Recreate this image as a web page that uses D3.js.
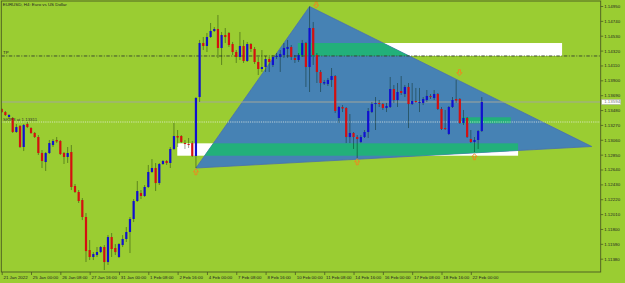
<!DOCTYPE html>
<html><head><meta charset="utf-8">
<script src="https://cdn.jsdelivr.net/npm/d3@7"></script>
<style>html,body{margin:0;padding:0;background:#9ACD32;overflow:hidden}svg{display:block}</style>
</head><body>
<svg id="c" width="625" height="283"></svg>
<script>
// ---- data (EURUSD H4, bar index 0 = 21 Jan 2022 16:00) ----
const opens = [
1.13495,1.13452,1.13382,1.13368,1.13170,1.13255,1.12958,1.13283,1.13226,1.13156,
1.13099,1.12873,1.12746,1.12873,1.12986,1.13057,1.13043,1.12873,1.12817,1.12887,
1.12407,1.12322,1.12209,1.11969,1.11502,1.11404,1.11432,1.11474,1.11545,1.11333,
1.11686,1.11531,1.11404,1.11573,1.11658,1.11757,1.11941,1.12195,1.12308,1.12266,
1.12393,1.12605,1.12661,1.12449,1.12718,1.12760,1.12732,1.12930,1.13113,1.13113,
1.13014,1.13000,1.13014,1.12831,1.13664,1.14427,1.14385,1.14512,1.14597,1.14625,
1.14357,1.14540,1.14569,1.14413,1.14300,1.14230,1.14385,1.14173,1.14413,1.14343,
1.14159,1.14060,1.14088,1.14201,1.14117,1.14230,1.14230,1.14258,1.14343,1.14371,
1.14215,1.14187,1.14258,1.14427,1.14088,1.14639,1.14258,1.14018,1.13855,1.13848,
1.13905,1.13961,1.13368,1.13523,1.13509,1.13099,1.13156,1.13099,1.13029,1.13099,
1.13170,1.13452,1.13565,1.13580,1.13565,1.13509,1.13523,1.13777,1.13622,1.13749,
1.13707,1.13806,1.13565,1.13608,1.13580,1.13580,1.13622,1.13679,1.13650,1.13707,
1.13495,1.13226,1.13142,1.13523,1.13636,1.13636,1.13297,1.13368,1.13071,1.13029,
1.13057,1.13184];
const highs = [
1.13509,1.13467,1.13424,1.13382,1.13283,1.13269,1.13283,1.13311,1.13240,1.13170,
1.13127,1.12915,1.12887,1.13057,1.13071,1.13099,1.13057,1.12887,1.12958,1.12986,
1.12435,1.12350,1.12237,1.12025,1.11644,1.11474,1.11545,1.11559,1.11573,1.11714,
1.11743,1.11587,1.11601,1.11714,1.11827,1.11969,1.12223,1.12477,1.12350,1.12421,
1.12704,1.12788,1.12732,1.12732,1.12774,1.12774,1.12958,1.13297,1.13198,1.13127,
1.13057,1.13085,1.13043,1.13664,1.14470,1.14512,1.14569,1.14710,1.14653,1.14823,
1.14583,1.14639,1.14583,1.14442,1.14328,1.14583,1.14470,1.14442,1.14427,1.14371,
1.14230,1.14328,1.14244,1.14230,1.14258,1.14286,1.14328,1.14427,1.14470,1.14399,
1.14258,1.14286,1.14470,1.14442,1.14943,1.14724,1.14286,1.14046,1.13905,1.13933,
1.14074,1.13975,1.13537,1.13551,1.13523,1.13424,1.13170,1.13127,1.13127,1.13198,
1.13509,1.13594,1.13664,1.13622,1.13580,1.13580,1.13947,1.13834,1.13862,1.13961,
1.13834,1.13862,1.13862,1.13792,1.13792,1.13664,1.13763,1.13707,1.13763,1.13721,
1.13523,1.13481,1.13537,1.13664,1.13905,1.13650,1.13481,1.13382,1.13198,1.13099,
1.13198,1.13664];
const lows = [
1.13438,1.13396,1.13354,1.13156,1.13156,1.12944,1.12901,1.13226,1.13142,1.13085,
1.12845,1.12661,1.12619,1.12859,1.12958,1.13014,1.12845,1.12718,1.12732,1.12350,
1.12308,1.12167,1.11926,1.11333,1.11361,1.11361,1.11404,1.11460,1.11220,1.11291,
1.11404,1.11432,1.11389,1.11545,1.11616,1.11460,1.11898,1.12181,1.12223,1.12251,
1.12379,1.12591,1.12336,1.12421,1.12704,1.12704,1.12661,1.12915,1.12958,1.13014,
1.12930,1.12944,1.12817,1.12661,1.13594,1.14328,1.14300,1.14498,1.14583,1.14215,
1.14117,1.14427,1.14371,1.14258,1.14145,1.14187,1.14145,1.14159,1.14300,1.14131,
1.13975,1.14018,1.14018,1.14018,1.14088,1.14201,1.14018,1.14215,1.14215,1.14187,
1.14145,1.14159,1.14230,1.13806,1.13735,1.14117,1.13862,1.13735,1.13834,1.13820,
1.13806,1.13438,1.13297,1.13452,1.13014,1.13014,1.12930,1.12802,1.13014,1.13085,
1.13085,1.13438,1.13198,1.13523,1.13481,1.13452,1.13509,1.13580,1.13523,1.13693,
1.13664,1.13226,1.13551,1.13580,1.13452,1.13551,1.13594,1.13636,1.13622,1.13481,
1.13198,1.13198,1.13127,1.13509,1.13580,1.13283,1.13269,1.13085,1.13014,1.12887,
1.12930,1.13170];
const closes = [
1.13452,1.13410,1.13410,1.13170,1.13240,1.12958,1.13269,1.13240,1.13156,1.13099,
1.12873,1.12760,1.12873,1.13014,1.13043,1.13036,1.12859,1.12817,1.12873,1.12393,
1.12322,1.12195,1.11969,1.11488,1.11404,1.11446,1.11474,1.11545,1.11333,1.11686,
1.11517,1.11474,1.11587,1.11658,1.11757,1.11941,1.12195,1.12336,1.12266,1.12393,
1.12605,1.12661,1.12449,1.12718,1.12760,1.12732,1.12930,1.13113,1.13092,1.13029,
1.13000,1.12986,1.12831,1.13650,1.14427,1.14385,1.14512,1.14597,1.14625,1.14357,
1.14540,1.14512,1.14399,1.14300,1.14230,1.14385,1.14173,1.14413,1.14343,1.14159,
1.14060,1.14088,1.14201,1.14159,1.14230,1.14244,1.14272,1.14357,1.14371,1.14230,
1.14187,1.14258,1.14427,1.14088,1.14639,1.14258,1.14018,1.13862,1.13876,1.13905,
1.13961,1.13467,1.13523,1.13502,1.13099,1.13156,1.13099,1.13071,1.13099,1.13170,
1.13467,1.13565,1.13580,1.13565,1.13509,1.13537,1.13777,1.13622,1.13735,1.13721,
1.13806,1.13565,1.13608,1.13594,1.13594,1.13636,1.13679,1.13664,1.13707,1.13495,
1.13212,1.13212,1.13523,1.13622,1.13615,1.13297,1.13368,1.13099,1.13029,1.13057,
1.13184,1.13594];

const priceTicks = [1.14950,1.14740,1.14530,1.14320,1.14110,1.13900,1.13690,1.13480,1.13270,
  1.13060,1.12850,1.12640,1.12430,1.12220,1.12010,1.11800,1.11590,1.11380];
const timeTickIdx = [0,8,16,24,32,40,48,56,64,72,80,88,96,104,112,120,128];
const timeTickLabels = ["21 Jan 2022","25 Jan 00:00","26 Jan 08:00","27 Jan 16:00","31 Jan 00:00",
  "1 Feb 08:00","2 Feb 16:00","4 Feb 00:00","7 Feb 08:00","8 Feb 16:00","10 Feb 00:00",
  "11 Feb 08:00","14 Feb 16:00","16 Feb 00:00","17 Feb 08:00","18 Feb 16:00","22 Feb 00:00"];

const title = "EURUSD, H4: Euro vs US Dollar";
const bidPrice = 1.13594;
const tpPrice = 1.14244;
const tpLabel = "TP";
const levelPrice = 1.13311;
const levelLabel = "SKIP3 at 1.13311";
const triIdx = [53, 84, 161];
const triPrice = [1.12661, 1.14943, 1.12965];
const rectIdx0 = [80.8, 47.9, 125.5];
const rectIdx1 = [152.9, 140.9, 138.9];
const rectTop = [1.14427, 1.13010, 1.13378];
const rectBot = [1.14244, 1.12835, 1.13293];
const upArrowIdx = [53, 97, 129];
const upArrowPrice = [1.12609, 1.12750, 1.12821];
const downArrowIdx = [85.8, 124.9];
const downArrowPrice = [1.14964, 1.14008];

// ---- layout ----
const W = 625, H = 283;
const plotL = 1.3, plotR = 600.7, plotT = 1, plotB = 272;
const svg = d3.select("#c");
const x = d3.scaleLinear().domain([0, 163]).range([1.7, 1.7 + 163 * 3.665]);
const y = d3.scaleLinear().domain([1.14950, 1.11380]).range([6, 258.7]);
const FONT = "'Liberation Sans', Arial, sans-serif";

svg.append("rect").attr("width", W).attr("height", H).attr("fill", "#9ACD32");

const defs = svg.append("defs");
defs.append("clipPath").attr("id", "plot").append("rect")
  .attr("x", plotL).attr("y", plotT).attr("width", plotR - plotL).attr("height", plotB - plotT);
const triPts = triIdx.map((d, i) => [x(d), y(triPrice[i])]);
defs.append("clipPath").attr("id", "tri").append("polygon")
  .attr("points", triPts.map(p => p.join(",")).join(" "));

const g = svg.append("g").attr("clip-path", "url(#plot)");

// rectangles (white) under triangle
const rects = rectIdx0.map((d, i) => ({i0: d, i1: rectIdx1[i], t: rectTop[i], b: rectBot[i]}));
g.selectAll("rect.box").data(rects).join("rect").attr("class", "box")
  .attr("x", d => x(d.i0)).attr("y", d => y(d.t))
  .attr("width", d => x(d.i1) - x(d.i0)).attr("height", d => y(d.b) - y(d.t))
  .attr("fill", "#ffffff");

// triangle
g.append("polygon").attr("points", triPts.map(p => p.join(",")).join(" "))
  .attr("fill", "#4682B4").attr("stroke", "#4a6fb0").attr("stroke-width", 0.8);

// overlap of rectangles with triangle
g.append("g").attr("clip-path", "url(#tri)")
  .selectAll("rect").data(rects).join("rect")
  .attr("x", d => x(d.i0)).attr("y", d => y(d.t))
  .attr("width", d => x(d.i1) - x(d.i0)).attr("height", d => y(d.b) - y(d.t))
  .attr("fill", "#22B07A");

// horizontal lines
g.append("line").attr("x1", plotL).attr("x2", plotR).attr("y1", y(tpPrice)).attr("y2", y(tpPrice))
  .attr("stroke", "#34402c").attr("stroke-width", 0.9).attr("stroke-dasharray", "3.5,1.5,1,1.5");
g.append("line").attr("x1", plotL).attr("x2", plotR).attr("y1", y(bidPrice)).attr("y2", y(bidPrice))
  .attr("stroke", "#a2a69a").attr("stroke-width", 1.2);
g.append("line").attr("x1", plotL).attr("x2", plotR).attr("y1", y(levelPrice)).attr("y2", y(levelPrice))
  .attr("stroke", "#f0f4ea").attr("stroke-width", 0.7).attr("stroke-dasharray", "1.2,1");

// candles
const bars = opens.map((o, i) => ({i, o, h: highs[i], l: lows[i], c: closes[i]}));
g.selectAll("line.wick").data(bars).join("line").attr("class", "wick")
  .attr("x1", d => x(d.i)).attr("x2", d => x(d.i))
  .attr("y1", d => y(d.h)).attr("y2", d => y(d.l))
  .attr("stroke", "rgba(0,25,0,0.5)").attr("stroke-width", 0.8);
g.selectAll("rect.body").data(bars).join("rect").attr("class", "body")
  .attr("x", d => x(d.i) - 1.1).attr("width", 2.2)
  .attr("y", d => y(Math.max(d.o, d.c)))
  .attr("height", d => Math.max(1, Math.abs(y(d.o) - y(d.c))))
  .attr("fill", d => d.c >= d.o ? "#1010d0" : "#d41010");

// arrows
function arrowPath(cx, cy, dir) {
  const s = dir; // -1 up, 1 down (head direction)
  return `M${cx},${cy + 3 * s} L${cx + 2.6},${cy} L${cx + 1},${cy} L${cx + 1},${cy - 3 * s} ` +
         `L${cx - 1},${cy - 3 * s} L${cx - 1},${cy} L${cx - 2.6},${cy} Z`;
}
g.selectAll("path.up").data(upArrowIdx).join("path").attr("class", "up")
  .attr("d", (d, i) => arrowPath(x(d), y(upArrowPrice[i]), -1))
  .attr("fill", "none").attr("stroke", "#f08420").attr("stroke-width", 0.9);
g.selectAll("path.dn").data(downArrowIdx).join("path").attr("class", "dn")
  .attr("d", (d, i) => arrowPath(x(d), y(downArrowPrice[i]), 1))
  .attr("fill", "none").attr("stroke", "#f08420").attr("stroke-width", 0.9);

// texts inside chart
svg.append("text").attr("x", 2.8).attr("y", 6).text(title)
  .attr("font-family", FONT).attr("font-size", 4.4).attr("fill", "#222");
svg.append("text").attr("x", 3).attr("y", y(tpPrice) - 2).text(tpLabel)
  .attr("font-family", FONT).attr("font-size", 4.4).attr("fill", "#222");
svg.append("text").attr("x", 3).attr("y", y(levelPrice) - 1.2).text(levelLabel)
  .attr("font-family", FONT).attr("font-size", 4.4).attr("fill", "#333");

// frame
svg.append("rect").attr("x", plotL).attr("y", plotT).attr("width", plotR - plotL).attr("height", plotB - plotT)
  .attr("fill", "none").attr("stroke", "#4b5a22").attr("stroke-width", 0.9);

// price axis
const ya = svg.append("g").attr("transform", `translate(${plotR},0)`)
  .call(d3.axisRight(y).tickValues(priceTicks).tickSize(2.5).tickPadding(1).tickFormat(d3.format(".5f")));
ya.select(".domain").remove();
ya.selectAll("line").attr("stroke", "#4b5a22").attr("stroke-width", 0.8);
ya.selectAll("text").attr("font-family", FONT).attr("font-size", 4.4).attr("fill", "#222");

// bid label on axis
const bl = svg.append("g").attr("transform", `translate(${plotR + 1},${y(bidPrice)})`);
bl.append("rect").attr("x", 0).attr("y", -2.5).attr("width", 19).attr("height", 5)
  .attr("fill", "#ffffff").attr("stroke", "#a2a69a").attr("stroke-width", 0.5);
bl.append("text").attr("x", 2.5).attr("y", 1.5).text(d3.format(".5f")(bidPrice))
  .attr("font-family", FONT).attr("font-size", 4.4).attr("fill", "#777");

// time axis
const xa = svg.append("g").attr("transform", `translate(0,${plotB})`)
  .call(d3.axisBottom(x).tickValues(timeTickIdx).tickSize(3).tickFormat((d, i) => timeTickLabels[i]));
xa.select(".domain").remove();
xa.selectAll("line").attr("stroke", "#4b5a22").attr("stroke-width", 0.8);
xa.selectAll("text").attr("text-anchor", "start").attr("x", 1.3).attr("y", 3.6)
  .attr("font-family", FONT).attr("font-size", 4.4).attr("fill", "#222");
</script>
</body></html>
